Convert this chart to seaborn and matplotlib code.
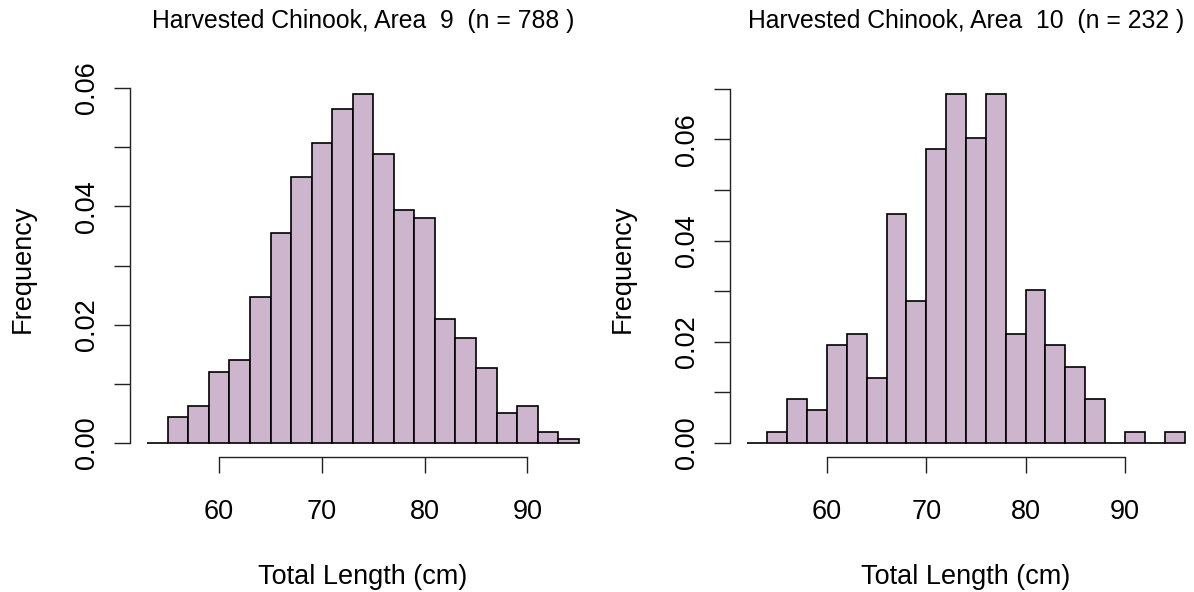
import numpy as np
import pandas as pd
import matplotlib
matplotlib.use("Agg")
import matplotlib.pyplot as plt
import seaborn as sns

# ---- data ----
areas = [9, 10]
area9_bin_edges = [53, 55, 57, 59, 61, 63, 65, 67, 69, 71, 73, 75, 77, 79, 81, 83, 85, 87, 89, 91, 93, 95]
area9_counts = [0, 7, 10, 19, 22, 39, 56, 71, 80, 89, 93, 77, 62, 60, 33, 28, 20, 8, 10, 3, 1]
area10_bin_edges = [52, 54, 56, 58, 60, 62, 64, 66, 68, 70, 72, 74, 76, 78, 80, 82, 84, 86, 88, 90, 92, 94, 96]
area10_counts = [0, 1, 4, 3, 9, 10, 6, 21, 13, 27, 32, 28, 32, 10, 14, 9, 7, 4, 0, 1, 0, 1]
x_ticks = [60, 70, 80, 90]
area9_y_ticks = [0.00, 0.01, 0.02, 0.03, 0.04, 0.05, 0.06]
area10_y_ticks = [0.00, 0.01, 0.02, 0.03, 0.04, 0.05, 0.06, 0.07]

FILL = "#CDB5CD"

sns.set_style("ticks")
plt.rcParams["font.family"] = ["Liberation Sans", "DejaVu Sans"]
plt.rcParams["text.color"] = "black"
plt.rcParams["axes.labelcolor"] = "black"

W, H = 1194, 592
fig = plt.figure(figsize=(W / 100, H / 100), dpi=100)

def px_axes(left, right, top, bottom):
    return fig.add_axes([left / W, (H - bottom) / H, (right - left) / W, (bottom - top) / H])

panels = [
    (area9_bin_edges, area9_counts, area9_y_ticks, px_axes(130, 596, 80, 457), 9),
    (area10_bin_edges, area10_counts, area10_y_ticks, px_axes(730, 1202, 80, 457), 10),
]

for edges_list, counts_list, yticks, ax, area in panels:
    edges = np.asarray(edges_list, dtype=float)
    counts = np.asarray(counts_list, dtype=float)
    centers = (edges[:-1] + edges[1:]) / 2
    df = pd.DataFrame({"length": centers, "n": counts})
    n = int(counts.sum())
    sns.histplot(data=df, x="length", weights="n", bins=list(edges_list), stat="density",
                 color=FILL, edgecolor="black", linewidth=1.2, alpha=1.0, ax=ax)
    # R-style axis limits (4% padding)
    xr = edges[-1] - edges[0]
    ax.set_xlim(edges[0] - 0.04 * xr, edges[-1] + 0.04 * xr)
    dmax = counts.max() / (n * (edges[1] - edges[0]))
    ax.set_ylim(-0.04 * dmax, 1.04 * dmax)

    for s in ["top", "right"]:
        ax.spines[s].set_visible(False)
    ax.spines["left"].set_bounds(yticks[0], yticks[-1])
    ax.spines["bottom"].set_bounds(x_ticks[0], x_ticks[-1])
    for s in ["left", "bottom"]:
        ax.spines[s].set_linewidth(1.0)
        ax.spines[s].set_color("#222222")

    ax.set_xticks(x_ticks)
    ax.set_xticklabels([str(t) for t in x_ticks])
    ax.set_yticks(yticks)
    ax.set_yticklabels([f"{t:.2f}" if round(t * 100) % 2 == 0 else "" for t in yticks],
                       rotation=90, va="center")
    ax.tick_params(axis="both", direction="out", length=11.5, width=1.0,
                   color="#222222", labelsize=19.5, labelcolor="black")
    ax.tick_params(axis="x", pad=19)
    ax.tick_params(axis="y", pad=10)

    ax.set_xlabel("Total Length (cm)", fontsize=19.5, color="black")
    ax.xaxis.set_label_coords(0.5, (457 - 576.7) / 377)
    ax.xaxis.label.set_va("center")
    ax.set_ylabel("Frequency", fontsize=19.5, color="black")
    ax.yaxis.set_label_coords(-107 / (ax.get_position().width * W), 0.5)
    ax.yaxis.label.set_va("center")

    ax.set_title(f"Harvested Chinook, Area  {area}  (n = {n} )", fontsize=17.8,
                 y=1 + (80 - 21) / 377, pad=0, va="center", color="black")
    ax.grid(False)

fig.savefig("out.png", dpi=100, facecolor="white")
